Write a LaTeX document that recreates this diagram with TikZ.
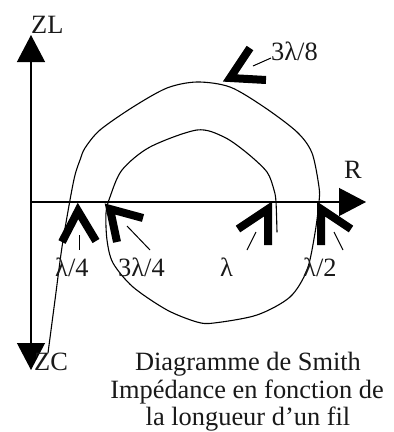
\documentclass[tikz,border=0pt]{standalone}
\usepackage{fontspec}
\setmainfont{Liberation Serif}
\usetikzlibrary{arrows.meta}
\tikzset{
  axisline/.style={line width=1.2pt,-{Triangle[length=27pt,width=28pt]}},
  curveline/.style={line width=1.1pt,line cap=round},
  chevron/.style={line width=8pt,line join=miter,miter limit=10},
  leader/.style={line width=1pt},
  lbl/.style={font=\fontsize{26.4}{30}\selectfont,inner sep=0pt,anchor=base west,text=black!90},
  captext/.style={font=\fontsize{26.4}{30}\selectfont,inner sep=0pt,anchor=base,text=black!90}
}
\begin{document}
\begin{tikzpicture}[x=1pt,y=-1pt]
\useasboundingbox (0,0) rectangle (394,432);
\coordinate (O) at (31,202);
\coordinate (top) at (31,35);
\coordinate (bot) at (31,370);
\coordinate (right) at (366,202);
\draw[axisline] (O) -- (top);
\draw[axisline] (O) -- (bot);
\draw[axisline] (O) -- (right);
% spiral
\draw[curveline] plot[smooth,tension=0.5] coordinates {
  (48,353) (55,300) (62,247) (70,200) (75,175) (80,160) (85,148) (100,130)
  (133,107) (167,88) (197,82) (230,87) (264,107) (297,132) (312,153) (319,187)
  (319,202) (315,233) (307,270) (290,297) (257,315) (214,323) (197,322) (167,310)
  (133,287) (113,263) (107,240) (106,213) (110,197) (122,170) (150,147) (197,130)
  (224,137) (247,153) (267,172) (274,190) (276,202) (277,232)};
% chevrons
\coordinate (a1) at (62,242); \coordinate (a2) at (78,211); \coordinate (a3) at (96,241);
\draw[chevron] (a1) -- (a2) -- (a3);
\coordinate (b1) at (117,242); \coordinate (b2) at (110,209); \coordinate (b3) at (143,218);
\draw[chevron] (b1) -- (b2) -- (b3);
\coordinate (c1) at (238,229); \coordinate (c2) at (268,209); \coordinate (c3) at (268,245);
\draw[chevron] (c1) -- (c2) -- (c3);
\coordinate (d1) at (321,245); \coordinate (d2) at (321,209); \coordinate (d3) at (351,229);
\draw[chevron] (d1) -- (d2) -- (d3);
\coordinate (e1) at (250,48); \coordinate (e2) at (230,78); \coordinate (e3) at (266,80);
\draw[chevron] (e1) -- (e2) -- (e3);
% leaders
\coordinate (l1a) at (79,235); \coordinate (l1b) at (79,250);
\draw[leader] (l1a) -- (l1b);
\coordinate (l2a) at (127,226); \coordinate (l2b) at (150,250);
\draw[leader] (l2a) -- (l2b);
\coordinate (l3a) at (256,232); \coordinate (l3b) at (247,250);
\draw[leader] (l3a) -- (l3b);
\coordinate (l4a) at (334,232); \coordinate (l4b) at (343,250);
\draw[leader] (l4a) -- (l4b);
\coordinate (l5a) at (253,66); \coordinate (l5b) at (271,58);
\draw[leader] (l5a) -- (l5b);
% labels
\node[lbl] (zl) at (31,33) {ZL};
\node[lbl] (zc) at (34,370) {ZC};
\node[lbl] (r) at (344,178) {R};
\node[lbl] (t1) at (271,60) {3λ/8};
\node[lbl] (t2) at (55,276) {λ/4};
\node[lbl] (t3) at (118,276) {3λ/4};
\node[lbl] (t4) at (220,276) {λ};
\node[lbl] (t5) at (303,276) {λ/2};
\node[captext] (c1t) at (248,370) {Diagramme de Smith};
\node[captext] (c2t) at (247,398) {Impédance en fonction de};
\node[captext] (c3t) at (248,425.5) {la longueur d’un fil};
\end{tikzpicture}
\end{document}
